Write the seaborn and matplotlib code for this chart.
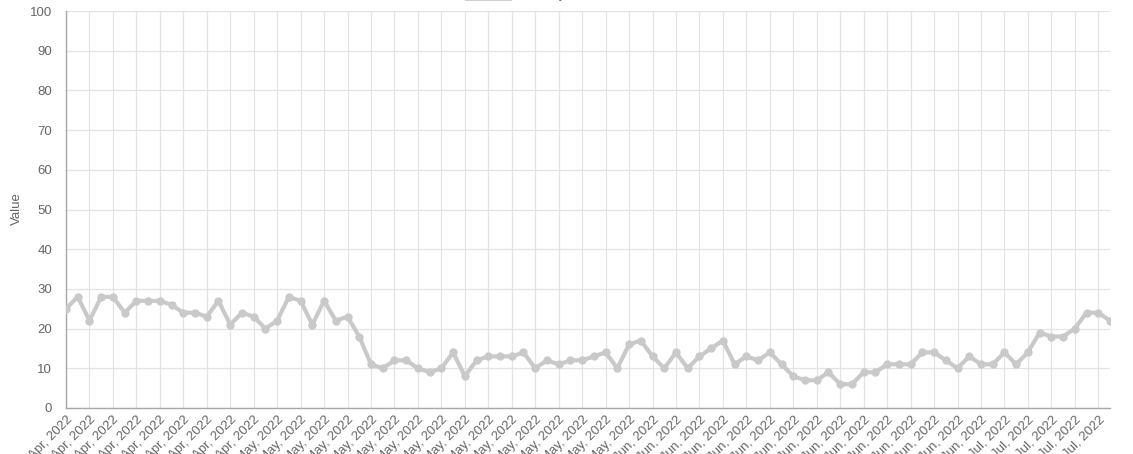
import pandas as pd
import matplotlib.pyplot as plt
from matplotlib.patches import Patch
import seaborn as sns

# daily values, 13 Apr 2022 .. 11 Jul 2022
dates = pd.date_range('2022-04-13', '2022-07-11', freq='D')
values = [25, 28, 22, 28, 28, 24, 27, 27, 27, 26,
          24, 24, 23, 27, 21, 24, 23, 20, 22, 28,
          27, 21, 27, 22, 23, 18, 11, 10, 12, 12,
          10, 9, 10, 14, 8, 12, 13, 13, 13, 14,
          10, 12, 11, 12, 12, 13, 14, 10, 16, 17,
          13, 10, 14, 10, 13, 15, 17, 11, 13, 12,
          14, 11, 8, 7, 7, 9, 6, 6, 9, 9,
          11, 11, 11, 14, 14, 12, 10, 13, 11, 11,
          14, 11, 14, 19, 18, 18, 20, 24, 24, 22]
series_label = 'Value by date, 2022'

df = pd.DataFrame({'idx': range(len(values)), 'Value': values})
tick_pos = list(range(0, len(values), 2))
tick_labels = [dates[i].strftime('%b, %Y') for i in tick_pos]

sns.set_style("white")
plt.rcParams['font.family'] = ['Liberation Sans', 'DejaVu Sans']

fig = plt.figure(figsize=(11.33, 4.54), dpi=100)
ax = fig.add_axes([66 / 1133, 46 / 454, 1044 / 1133, 397 / 454])

sns.lineplot(data=df, x='idx', y='Value', ax=ax, color='#c9c9c9', lw=3,
             marker='o', markersize=6, markeredgewidth=0, legend=False,
             zorder=3)

ax.set_xlim(0, len(values) - 1)
ax.set_ylim(0, 100)
ax.set_yticks(range(0, 101, 10))
ax.set_xticks(tick_pos)
ax.set_xticklabels(tick_labels, rotation=45, ha='right', rotation_mode='anchor')

ax.grid(True, color='#e3e3e3', lw=0.9)
ax.tick_params(axis='y', colors='#666666', labelsize=9.5, length=8, width=0.9,
               color='#e3e3e3', pad=2)
ax.tick_params(axis='x', colors='#666666', labelsize=9.5, length=4, width=0.9,
               color='#e3e3e3', pad=0)
for s in ['top', 'right']:
    ax.spines[s].set_visible(False)
for s in ['left', 'bottom']:
    ax.spines[s].set_color('#a8a8a8')
    ax.spines[s].set_linewidth(1)

ax.set_xlabel('')
ax.set_ylabel('')
fig.text(17 / 1133, 1 - 209 / 454, 'Value', rotation=90, color='#666666',
         fontsize=9.5, ha='center', va='center')

# legend sits almost entirely above the top edge, as in the reference
handle = Patch(facecolor='#dcdcdc', edgecolor='#c9c9c9', lw=2)
fig.legend([handle], [series_label], loc='lower left',
           bbox_to_anchor=(466 / 1133, 1 - 1 / 454), frameon=False,
           borderpad=0, borderaxespad=0, handlelength=3.3, handleheight=1.0,
           handletextpad=0.4, fontsize=9.5, labelcolor='#666666')

fig.savefig('out.png', dpi=100)
